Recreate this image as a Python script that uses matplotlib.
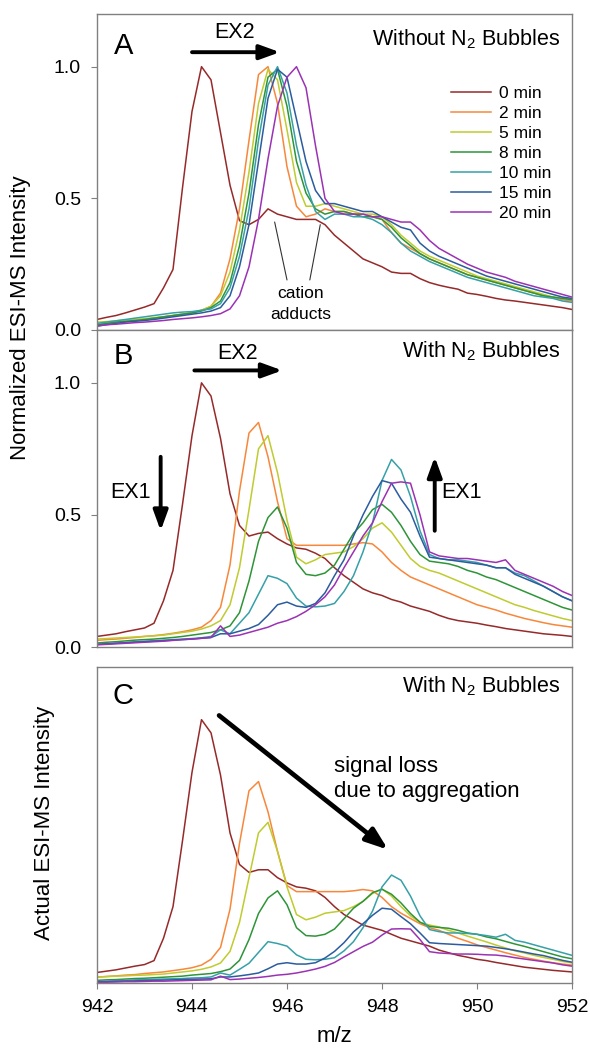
import numpy as np
import matplotlib
matplotlib.use("Agg")
import matplotlib.pyplot as plt

plt.rcParams['font.family'] = ['Liberation Sans', 'DejaVu Sans']
plt.rcParams['mathtext.default'] = 'regular'

# m/z grid, 0.2 steps from 942 to 952
mz = np.round(np.arange(942.0, 952.01, 0.2), 1)

labels = ['0 min', '2 min', '5 min', '8 min', '10 min', '15 min', '20 min']
colors = ['#962a2a', '#f7873a', '#bfcb2e', '#2e9438', '#36a0a8', '#2b5c9e', '#9b32b4']

# Panel A - without N2 bubbles (normalized)
A_0 = [0.040, 0.048, 0.055, 0.065, 0.076,
       0.087, 0.100, 0.160, 0.230, 0.540,
       0.830, 1.000, 0.950, 0.750, 0.550,
       0.415, 0.400, 0.420, 0.460, 0.440,
       0.430, 0.420, 0.420, 0.420, 0.400,
       0.360, 0.330, 0.300, 0.270, 0.255,
       0.240, 0.220, 0.215, 0.215, 0.195,
       0.180, 0.170, 0.162, 0.155, 0.140,
       0.135, 0.128, 0.120, 0.114, 0.110,
       0.105, 0.100, 0.095, 0.090, 0.085,
       0.078]
A_2 = [0.020, 0.025, 0.030, 0.033, 0.037,
       0.040, 0.045, 0.050, 0.055, 0.060,
       0.065, 0.075, 0.090, 0.140, 0.270,
       0.460, 0.720, 0.970, 1.000, 0.860,
       0.620, 0.470, 0.430, 0.440, 0.460,
       0.450, 0.450, 0.440, 0.440, 0.430,
       0.420, 0.370, 0.330, 0.310, 0.290,
       0.270, 0.255, 0.240, 0.225, 0.210,
       0.200, 0.190, 0.180, 0.170, 0.160,
       0.150, 0.140, 0.130, 0.125, 0.115,
       0.110]
A_5 = [0.030, 0.032, 0.035, 0.038, 0.040,
       0.043, 0.047, 0.050, 0.055, 0.060,
       0.066, 0.075, 0.090, 0.130, 0.220,
       0.380, 0.600, 0.860, 0.990, 0.950,
       0.760, 0.560, 0.470, 0.470, 0.480,
       0.470, 0.460, 0.450, 0.440, 0.440,
       0.430, 0.400, 0.360, 0.330, 0.300,
       0.280, 0.265, 0.250, 0.235, 0.220,
       0.205, 0.195, 0.185, 0.175, 0.165,
       0.155, 0.145, 0.135, 0.125, 0.120,
       0.115]
A_8 = [0.020, 0.025, 0.030, 0.033, 0.036,
       0.040, 0.045, 0.050, 0.055, 0.060,
       0.065, 0.072, 0.085, 0.110, 0.180,
       0.320, 0.520, 0.780, 0.960, 0.990,
       0.850, 0.640, 0.520, 0.460, 0.440,
       0.450, 0.450, 0.440, 0.430, 0.430,
       0.420, 0.390, 0.350, 0.320, 0.290,
       0.270, 0.255, 0.240, 0.225, 0.210,
       0.200, 0.190, 0.180, 0.170, 0.160,
       0.150, 0.140, 0.130, 0.125, 0.120,
       0.115]
A_10 = [0.025, 0.030, 0.035, 0.040, 0.045,
        0.050, 0.055, 0.060, 0.065, 0.068,
        0.070, 0.075, 0.080, 0.100, 0.160,
        0.280, 0.460, 0.720, 0.930, 1.000,
        0.900, 0.700, 0.550, 0.450, 0.420,
        0.440, 0.440, 0.430, 0.430, 0.420,
        0.400, 0.370, 0.330, 0.300, 0.280,
        0.260, 0.245, 0.230, 0.215, 0.200,
        0.190, 0.180, 0.170, 0.160, 0.150,
        0.140, 0.130, 0.125, 0.120, 0.110,
        0.105]
A_15 = [0.015, 0.020, 0.025, 0.030, 0.033,
        0.036, 0.040, 0.045, 0.050, 0.055,
        0.060, 0.065, 0.072, 0.085, 0.130,
        0.240, 0.400, 0.640, 0.880, 0.990,
        0.960, 0.800, 0.640, 0.530, 0.480,
        0.480, 0.470, 0.460, 0.450, 0.450,
        0.430, 0.410, 0.390, 0.380, 0.330,
        0.300, 0.280, 0.265, 0.250, 0.235,
        0.220, 0.205, 0.195, 0.185, 0.175,
        0.165, 0.155, 0.145, 0.135, 0.125,
        0.120]
A_20 = [0.015, 0.020, 0.022, 0.025, 0.028,
        0.030, 0.033, 0.036, 0.040, 0.043,
        0.046, 0.050, 0.055, 0.062, 0.080,
        0.130, 0.240, 0.420, 0.650, 0.850,
        0.960, 1.000, 0.920, 0.700, 0.500,
        0.450, 0.440, 0.440, 0.440, 0.430,
        0.430, 0.420, 0.410, 0.410, 0.380,
        0.340, 0.310, 0.290, 0.270, 0.250,
        0.235, 0.220, 0.210, 0.200, 0.185,
        0.175, 0.165, 0.155, 0.145, 0.135,
        0.125]

# Panel B - with N2 bubbles (normalized)
B_0 = [0.040, 0.045, 0.050, 0.058, 0.065,
       0.072, 0.090, 0.175, 0.290, 0.540,
       0.800, 1.000, 0.950, 0.790, 0.580,
       0.460, 0.420, 0.430, 0.435, 0.410,
       0.390, 0.375, 0.370, 0.355, 0.335,
       0.300, 0.270, 0.245, 0.220, 0.205,
       0.195, 0.180, 0.170, 0.155, 0.145,
       0.135, 0.120, 0.108, 0.100, 0.095,
       0.090, 0.083, 0.077, 0.070, 0.065,
       0.060, 0.055, 0.050, 0.047, 0.044,
       0.040]
B_2 = [0.025, 0.028, 0.030, 0.033, 0.036,
       0.040, 0.043, 0.047, 0.052, 0.058,
       0.065, 0.075, 0.100, 0.150, 0.310,
       0.590, 0.810, 0.850, 0.720, 0.550,
       0.410, 0.385, 0.385, 0.385, 0.385,
       0.385, 0.385, 0.390, 0.395, 0.390,
       0.360, 0.320, 0.290, 0.265, 0.250,
       0.235, 0.220, 0.205, 0.190, 0.175,
       0.160, 0.150, 0.140, 0.128, 0.118,
       0.108, 0.100, 0.092, 0.085, 0.080,
       0.075]
B_5 = [0.030, 0.032, 0.034, 0.036, 0.038,
       0.040, 0.042, 0.045, 0.050, 0.055,
       0.060, 0.068, 0.080, 0.100, 0.160,
       0.300, 0.520, 0.750, 0.800, 0.660,
       0.480, 0.340, 0.315, 0.330, 0.350,
       0.355, 0.360, 0.380, 0.410, 0.450,
       0.470, 0.435, 0.385, 0.335, 0.305,
       0.290, 0.280, 0.265, 0.250, 0.235,
       0.220, 0.205, 0.190, 0.175, 0.160,
       0.150, 0.138, 0.128, 0.118, 0.108,
       0.100]
B_8 = [0.015, 0.018, 0.020, 0.023, 0.026,
       0.028, 0.030, 0.033, 0.036, 0.040,
       0.045, 0.050, 0.055, 0.065, 0.080,
       0.130, 0.250, 0.400, 0.490, 0.530,
       0.450, 0.320, 0.275, 0.270, 0.280,
       0.310, 0.370, 0.430, 0.470, 0.520,
       0.540, 0.510, 0.460, 0.400, 0.350,
       0.325, 0.320, 0.315, 0.305, 0.290,
       0.280, 0.265, 0.255, 0.240, 0.225,
       0.210, 0.195, 0.180, 0.165, 0.150,
       0.140]
B_10 = [0.010, 0.012, 0.015, 0.017, 0.020,
        0.022, 0.024, 0.026, 0.028, 0.030,
        0.032, 0.035, 0.040, 0.065, 0.050,
        0.090, 0.130, 0.200, 0.270, 0.260,
        0.240, 0.185, 0.155, 0.152, 0.155,
        0.165, 0.210, 0.270, 0.360, 0.470,
        0.630, 0.710, 0.670, 0.570, 0.440,
        0.350, 0.335, 0.330, 0.330, 0.325,
        0.320, 0.310, 0.300, 0.300, 0.280,
        0.270, 0.250, 0.230, 0.210, 0.190,
        0.175]
B_15 = [0.010, 0.012, 0.014, 0.016, 0.018,
        0.020, 0.022, 0.024, 0.026, 0.028,
        0.030, 0.033, 0.036, 0.050, 0.050,
        0.060, 0.070, 0.085, 0.120, 0.160,
        0.170, 0.155, 0.150, 0.165, 0.205,
        0.270, 0.330, 0.420, 0.500, 0.570,
        0.630, 0.620, 0.560, 0.510, 0.420,
        0.340, 0.335, 0.330, 0.325, 0.320,
        0.315, 0.310, 0.300, 0.300, 0.275,
        0.260, 0.245, 0.230, 0.210, 0.190,
        0.175]
B_20 = [0.008, 0.010, 0.012, 0.014, 0.016,
        0.018, 0.020, 0.022, 0.025, 0.028,
        0.030, 0.033, 0.036, 0.080, 0.040,
        0.045, 0.055, 0.065, 0.075, 0.090,
        0.100, 0.115, 0.135, 0.160, 0.190,
        0.235, 0.300, 0.360, 0.420, 0.470,
        0.550, 0.620, 0.625, 0.620, 0.500,
        0.360, 0.345, 0.340, 0.335, 0.335,
        0.330, 0.325, 0.320, 0.330, 0.290,
        0.275, 0.260, 0.245, 0.230, 0.210,
        0.195]

# Panel C - with N2 bubbles, actual intensity (0 min peak = 1)
C_0 = [0.040, 0.045, 0.050, 0.057, 0.064,
       0.070, 0.085, 0.170, 0.290, 0.540,
       0.800, 1.000, 0.950, 0.790, 0.570,
       0.450, 0.420, 0.430, 0.430, 0.400,
       0.380, 0.365, 0.360, 0.350, 0.325,
       0.290, 0.260, 0.240, 0.220, 0.210,
       0.200, 0.185, 0.170, 0.160, 0.150,
       0.140, 0.125, 0.115, 0.105, 0.098,
       0.090, 0.085, 0.078, 0.072, 0.066,
       0.060, 0.056, 0.052, 0.048, 0.045,
       0.042]
C_2 = [0.022, 0.025, 0.027, 0.030, 0.032,
       0.036, 0.039, 0.042, 0.047, 0.052,
       0.058, 0.068, 0.090, 0.135, 0.280,
       0.530, 0.730, 0.765, 0.650, 0.500,
       0.370, 0.347, 0.347, 0.347, 0.347,
       0.347, 0.347, 0.350, 0.355, 0.350,
       0.325, 0.290, 0.265, 0.245, 0.225,
       0.210, 0.200, 0.185, 0.170, 0.158,
       0.145, 0.135, 0.125, 0.115, 0.106,
       0.097, 0.090, 0.083, 0.077, 0.072,
       0.068]
C_5 = [0.023, 0.024, 0.026, 0.027, 0.029,
       0.030, 0.032, 0.034, 0.038, 0.042,
       0.046, 0.052, 0.061, 0.076, 0.120,
       0.230, 0.400, 0.570, 0.610, 0.500,
       0.365, 0.260, 0.240, 0.250, 0.265,
       0.270, 0.275, 0.290, 0.310, 0.340,
       0.357, 0.330, 0.290, 0.255, 0.230,
       0.220, 0.213, 0.200, 0.190, 0.178,
       0.167, 0.156, 0.144, 0.133, 0.122,
       0.114, 0.105, 0.097, 0.090, 0.082,
       0.076]
C_8 = [0.010, 0.012, 0.013, 0.015, 0.017,
       0.018, 0.020, 0.022, 0.024, 0.026,
       0.030, 0.033, 0.036, 0.043, 0.053,
       0.086, 0.165, 0.264, 0.323, 0.350,
       0.297, 0.210, 0.180, 0.178, 0.185,
       0.205, 0.244, 0.284, 0.310, 0.343,
       0.356, 0.337, 0.304, 0.264, 0.231,
       0.215, 0.211, 0.208, 0.200, 0.190,
       0.185, 0.175, 0.168, 0.158, 0.148,
       0.139, 0.129, 0.119, 0.109, 0.099,
       0.092]
C_10 = [0.006, 0.007, 0.009, 0.010, 0.012,
        0.013, 0.014, 0.015, 0.016, 0.017,
        0.019, 0.020, 0.023, 0.038, 0.030,
        0.052, 0.075, 0.116, 0.157, 0.150,
        0.140, 0.107, 0.090, 0.088, 0.090,
        0.096, 0.122, 0.157, 0.210, 0.273,
        0.365, 0.410, 0.390, 0.330, 0.255,
        0.203, 0.195, 0.190, 0.190, 0.188,
        0.185, 0.180, 0.174, 0.185, 0.162,
        0.155, 0.145, 0.135, 0.125, 0.115,
        0.105]
C_15 = [0.005, 0.005, 0.006, 0.007, 0.008,
        0.009, 0.010, 0.011, 0.012, 0.013,
        0.014, 0.015, 0.016, 0.023, 0.023,
        0.027, 0.032, 0.038, 0.054, 0.072,
        0.077, 0.072, 0.072, 0.077, 0.095,
        0.120, 0.153, 0.194, 0.225, 0.257,
        0.284, 0.280, 0.252, 0.225, 0.190,
        0.153, 0.150, 0.148, 0.146, 0.144,
        0.142, 0.140, 0.135, 0.130, 0.124,
        0.117, 0.110, 0.104, 0.095, 0.086,
        0.079]
C_20 = [0.003, 0.003, 0.004, 0.005, 0.005,
        0.006, 0.007, 0.007, 0.008, 0.009,
        0.010, 0.011, 0.012, 0.026, 0.013,
        0.015, 0.018, 0.021, 0.025, 0.030,
        0.033, 0.038, 0.045, 0.053, 0.063,
        0.078, 0.099, 0.119, 0.139, 0.155,
        0.182, 0.205, 0.206, 0.205, 0.165,
        0.119, 0.114, 0.112, 0.110, 0.110,
        0.109, 0.107, 0.106, 0.102, 0.096,
        0.091, 0.086, 0.081, 0.076, 0.069,
        0.064]

panel_a = [A_0, A_2, A_5, A_8, A_10, A_15, A_20]
panel_b = [B_0, B_2, B_5, B_8, B_10, B_15, B_20]
panel_c = [C_0, C_2, C_5, C_8, C_10, C_15, C_20]

fig = plt.figure(figsize=(5.9, 10.49), dpi=100)
left, width = 97 / 590, 475 / 590
axA = fig.add_axes([left, 1 - 330 / 1049, width, 316 / 1049])
axB = fig.add_axes([left, 1 - 647 / 1049, width, 317 / 1049])
axC = fig.add_axes([left, 1 - 983 / 1049, width, 316 / 1049])

spine_col = '#808080'
for ax, series in zip([axA, axB, axC], [panel_a, panel_b, panel_c]):
    for ys, c, lab in zip(series, colors, labels):
        ax.plot(mz, ys, color=c, lw=1.1, label=lab)
    ax.set_xlim(942, 952)
    ax.set_ylim(0, 1.2)
    for s in ax.spines.values():
        s.set_color(spine_col)
        s.set_linewidth(1.0)
    ax.tick_params(direction='out', length=4.5, width=0.8, color=spine_col,
                   labelsize=14)
    ax.tick_params(axis='y', pad=7)
    ax.tick_params(axis='x', pad=7)

for ax in [axA, axB]:
    ax.set_xticks([])
    ax.set_yticks([0.0, 0.5, 1.0])
    ax.set_yticklabels(['0.0', '0.5', '1.0'])

axC.set_yticks([])
axC.set_xticks([942, 944, 946, 948, 950, 952])

arrow_kw = dict(arrowstyle='-|>,head_length=1.1,head_width=0.4', lw=2.8,
                color='black', mutation_scale=11, shrinkA=0, shrinkB=0)

# panel A annotations
axA.text(942.55, 1.08, 'A', fontsize=21, ha='center', va='center')
axA.text(951.75, 1.105, 'Without N$_2$ Bubbles', fontsize=15.5, ha='right', va='center')
axA.text(944.9, 1.13, 'EX2', fontsize=15.5, ha='center', va='center')
axA.annotate('', xy=(945.85, 1.055), xytext=(944.0, 1.055), arrowprops=arrow_kw)
axA.text(946.28, 0.14, 'cation', fontsize=12.5, ha='center', va='center')
axA.text(946.28, 0.06, 'adducts', fontsize=12.5, ha='center', va='center')
line_kw = dict(arrowstyle='-', color='#333333', lw=0.8, shrinkA=0, shrinkB=0)
axA.annotate('', xy=(945.74, 0.41), xytext=(946.0, 0.19), arrowprops=line_kw)
axA.annotate('', xy=(946.7, 0.40), xytext=(946.48, 0.19), arrowprops=line_kw)
axA.legend(loc='upper left', bbox_to_anchor=(0.745, 0.772), frameon=False,
           fontsize=12.5, handlelength=2.3, handletextpad=0.45, labelspacing=0.28,
           borderaxespad=0, borderpad=0)

# panel B annotations
axB.text(942.55, 1.10, 'B', fontsize=21, ha='center', va='center')
axB.text(951.75, 1.12, 'With N$_2$ Bubbles', fontsize=15.5, ha='right', va='center')
axB.text(944.95, 1.11, 'EX2', fontsize=15.5, ha='center', va='center')
axB.annotate('', xy=(945.9, 1.047), xytext=(944.05, 1.047), arrowprops=arrow_kw)
axB.annotate('', xy=(943.34, 0.44), xytext=(943.34, 0.72), arrowprops=arrow_kw)
axB.text(943.13, 0.583, 'EX1', fontsize=15.5, ha='right', va='center')
axB.annotate('', xy=(949.11, 0.72), xytext=(949.11, 0.44), arrowprops=arrow_kw)
axB.text(949.25, 0.583, 'EX1', fontsize=15.5, ha='left', va='center')

# panel C annotations
axC.text(942.55, 1.09, 'C', fontsize=21, ha='center', va='center')
axC.text(951.75, 1.127, 'With N$_2$ Bubbles', fontsize=15.5, ha='right', va='center')
axC.annotate('', xy=(948.13, 0.506), xytext=(944.57, 1.016),
             arrowprops=dict(arrowstyle='-|>,head_length=1.1,head_width=0.4', lw=3.4,
                             color='black', mutation_scale=12, shrinkA=0, shrinkB=0))
axC.text(946.98, 0.822, 'signal loss', fontsize=16, ha='left', va='center')
axC.text(946.98, 0.728, 'due to aggregation', fontsize=16, ha='left', va='center')

fig.text(21 / 590, 1 - 318 / 1049, 'Normalized ESI-MS Intensity', rotation=90,
         fontsize=16, ha='center', va='center')
fig.text(45 / 590, 1 - 823 / 1049, 'Actual ESI-MS Intensity', rotation=90,
         fontsize=16, ha='center', va='center')
fig.text((97 + 572) / 2 / 590, 1 - 1037 / 1049, 'm/z', fontsize=16,
         ha='center', va='center')

fig.savefig('out.png', dpi=100)
